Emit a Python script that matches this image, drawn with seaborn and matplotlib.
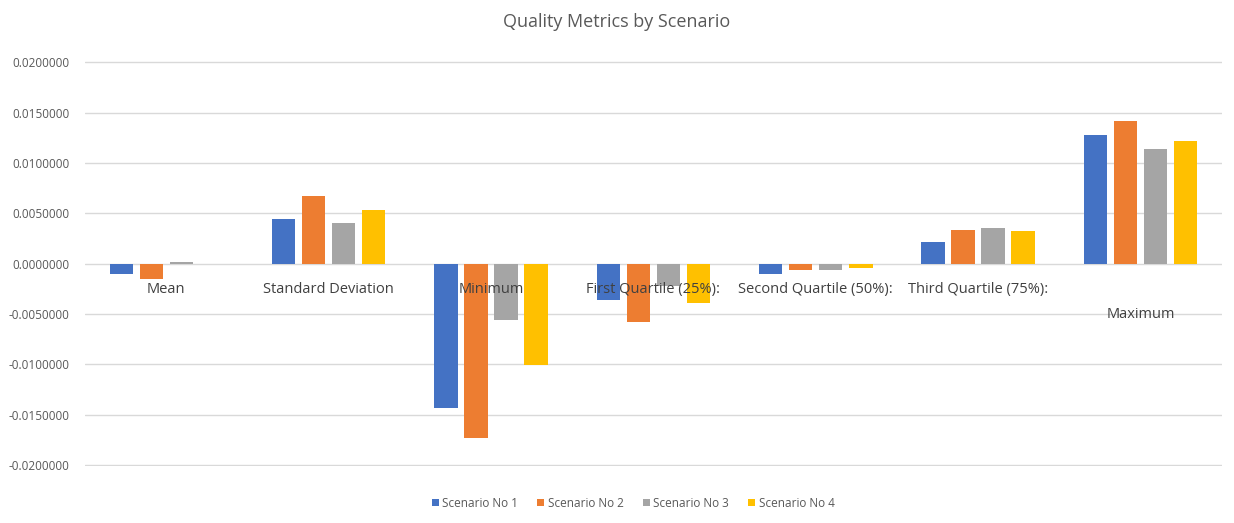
import matplotlib.pyplot as plt
import pandas as pd
import seaborn as sns

metrics = [
    "Mean",
    "Standard Deviation",
    "Minimum",
    "First Quartile (25%):",
    "Second Quartile (50%):",
    "Third Quartile (75%):",
    "Maximum",
]
scenarios = ["Scenario No 1", "Scenario No 2", "Scenario No 3", "Scenario No 4"]

scenario_1 = [-0.0010, 0.0044, -0.0143, -0.0036, -0.0010, 0.0021, 0.0128]
scenario_2 = [-0.0015, 0.0067, -0.0173, -0.0058, -0.0006, 0.0033, 0.0142]
scenario_3 = [0.0002, 0.0040, -0.0056, -0.0022, -0.0006, 0.0035, 0.0114]
scenario_4 = [0.0000, 0.0053, -0.0101, -0.0039, -0.0004, 0.0032, 0.0122]

colors = ["#4472C4", "#ED7D31", "#A5A5A5", "#FFC000"]

df = pd.DataFrame(
    {
        "metric": metrics * 4,
        "scenario": [s for s in scenarios for _ in metrics],
        "value": scenario_1 + scenario_2 + scenario_3 + scenario_4,
    }
)

sns.set_theme(style="white")
plt.rcParams["font.family"] = ["Open Sans", "DejaVu Sans"]

fig = plt.figure(figsize=(12.34, 5.23), dpi=100)
ax = fig.add_axes([0.069, 0.109, 0.921, 0.774])

sns.barplot(
    data=df,
    x="metric",
    y="value",
    hue="scenario",
    palette=colors,
    saturation=1,
    width=0.74,
    gap=0.22,
    errorbar=None,
    linewidth=0,
    ax=ax,
    zorder=3,
)

ax.set_ylim(-0.0201, 0.0201)
ax.set_xlim(-0.5, len(metrics) - 0.5)
ticks = [i * 0.005 for i in range(-4, 5)]
ax.set_yticks(ticks)
ax.set_yticklabels([f"{v:.7f}" for v in ticks], fontsize=8.5, color="#595959")
ax.yaxis.grid(True, color="#D9D9D9", linewidth=1, zorder=0)
ax.tick_params(axis="y", length=0, pad=11)

for s in ax.spines.values():
    s.set_visible(False)

# category labels sit just under the zero line, on top of the bars
ax.set_xticks([])
ax.set_xlabel("")
ax.set_ylabel("")
for i, m in enumerate(metrics):
    dy = -31 if m == "Maximum" else -13
    ax.annotate(
        m,
        xy=(i, 0),
        xytext=(0, dy),
        textcoords="offset points",
        ha="center",
        va="top",
        fontsize=10.5,
        color="#404040",
        zorder=6,
    )

fig.suptitle("Quality Metrics by Scenario", y=0.975, fontsize=13, color="#595959")

handles, lbls = ax.get_legend_handles_labels()
ax.legend(
    handles,
    lbls,
    loc="lower center",
    bbox_to_anchor=(0.513, 0.005),
    bbox_transform=fig.transFigure,
    ncol=4,
    frameon=False,
    fontsize=8.5,
    handlelength=0.6,
    handleheight=0.6,
    handletextpad=0.3,
    columnspacing=1.6,
    labelcolor="#595959",
)

plt.savefig("out.png")
plt.clf()
